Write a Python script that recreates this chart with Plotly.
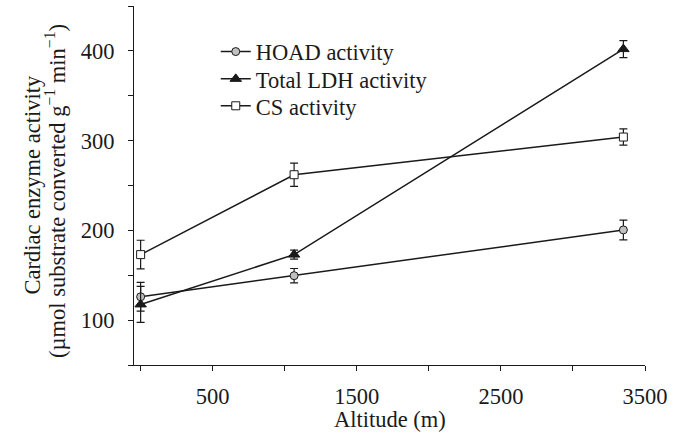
import plotly.graph_objects as go

altitude = [0, 1065, 3350]
hoad = [126, 149.5, 200.5]
hoad_err = [16, 8, 11]
ldh = [117.5, 173, 402]
ldh_err = [20, 5, 9.5]
cs = [173, 262, 304]
cs_err = [16, 13, 9]

FONT = "Liberation Serif, Times New Roman, serif"
INK = "#1a1a1a"
FS = 22.5

fig = go.Figure()

def add(name, y, err, symbol, fill, size, legend):
    fig.add_trace(go.Scatter(
        x=altitude, y=y, name=name, mode="lines+markers",
        line=dict(color=INK, width=1.5),
        marker=dict(symbol=symbol, size=size, color=fill,
                    line=dict(color=INK, width=1)),
        error_y=dict(type="data", array=err, visible=True,
                     color=INK, thickness=1.2, width=4),
        legend=legend,
    ))

add("HOAD activity", hoad, hoad_err, "circle", "#c0c0c0", 8, "legend")
add("Total LDH activity", ldh, ldh_err, "triangle-up", INK, 10, "legend2")
add("CS activity", cs, cs_err, "square", "white", 8, "legend3")

def leg(y):
    return dict(x=0.16, y=y, xanchor="left", yanchor="middle",
                bgcolor="rgba(0,0,0,0)", font=dict(size=FS, family=FONT, color=INK),
                itemwidth=30, borderwidth=0)

axis_common = dict(ticks="outside", ticklen=5, tickwidth=1, tickcolor=INK,
                   showline=True, linecolor=INK, linewidth=1, showgrid=False,
                   zeroline=False, automargin=False,
                   tickfont=dict(size=FS, family=FONT, color=INK),
                   minor=dict(ticks="outside", ticklen=5, tickwidth=1,
                              tickcolor=INK, showgrid=False))

fig.update_layout(
    width=680, height=433,
    margin=dict(l=134, r=35, t=6, b=68, autoexpand=False),
    paper_bgcolor="white", plot_bgcolor="white",
    font=dict(family=FONT, size=FS, color=INK),
    showlegend=True,
    legend=leg(0.872), legend2=leg(0.796), legend3=leg(0.721),
    xaxis=dict(range=[-46, 3500], tick0=500, dtick=1000,
               ticklabelstandoff=6, **axis_common),
    yaxis=dict(range=[50, 450], tick0=0, dtick=100,
               ticklabelstandoff=9, **axis_common),
)
fig.update_xaxes(minor=dict(dtick=500, tick0=0))
fig.update_yaxes(minor=dict(dtick=50, tick0=0))

fig.add_annotation(text="Altitude (m)", xref="paper", yref="paper",
                   x=0.5, y=(364 - 418) / 359, xanchor="center", yanchor="middle",
                   showarrow=False, font=dict(size=FS, family=FONT, color=INK))
fig.add_annotation(text="Cardiac enzyme activity", xref="paper", yref="paper",
                   x=(32 - 134) / 511, y=0.5, xanchor="center", yanchor="middle",
                   textangle=-90, showarrow=False,
                   font=dict(size=FS, family=FONT, color=INK))
fig.add_annotation(text="(µmol substrate converted g<sup>−1</sup> min<sup>−1</sup>)",
                   xref="paper", yref="paper",
                   x=(55 - 134) / 511, y=0.485, xanchor="center", yanchor="middle",
                   textangle=-90, showarrow=False,
                   font=dict(size=FS, family=FONT, color=INK))

fig.write_html("out.html", config={"displayModeBar": False},
               post_script="document.body.style.margin='0';document.body.style.overflow='hidden';")
